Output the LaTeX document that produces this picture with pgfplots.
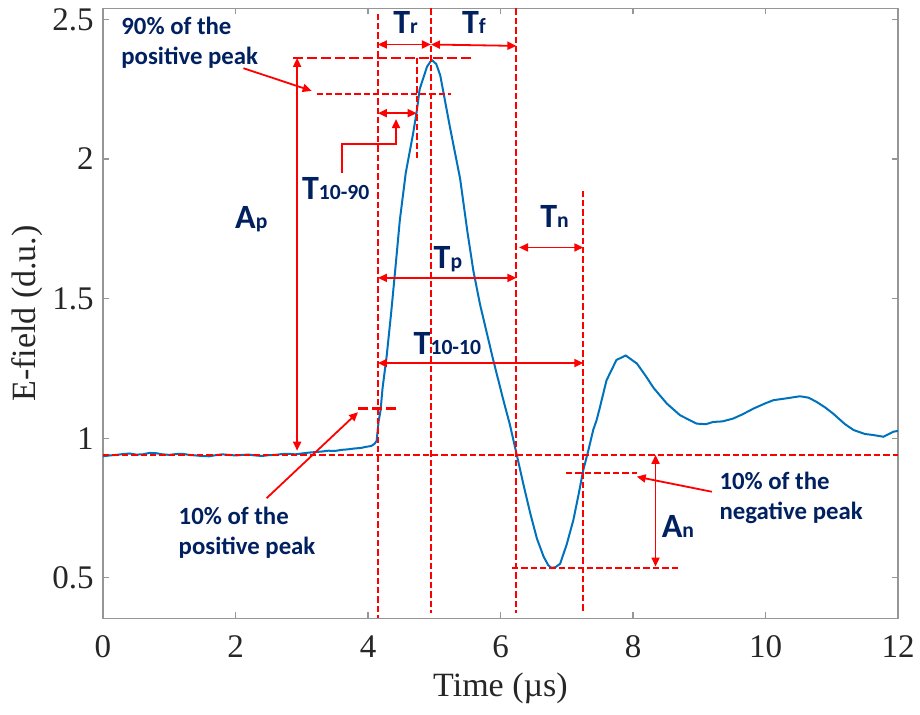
\documentclass[border=0pt]{standalone}
\usepackage{fontspec}
\setmainfont{Liberation Serif}
\newfontfamily\lab{Carlito}
\usepackage{pgfplots}
\pgfplotsset{compat=1.18}
\usetikzlibrary{arrows.meta}
\definecolor{mblue}{RGB}{0,114,189}
\definecolor{navy}{RGB}{0,32,96}
\definecolor{framegray}{RGB}{150,150,150}
\newcommand{\lbl}[2]{#1{\fontsize{10.8}{10.8}\selectfont #2}}

\begin{document}
\begin{tikzpicture}[
  dl/.style={red, line width=1pt, dash pattern=on 3.2pt off 1.5pt},
  dlw/.style={red, line width=1.4pt, dash pattern=on 5pt off 2pt},
  ar/.style={red, line width=0.9pt, {Triangle[length=4.5pt,width=4pt]}-{Triangle[length=4.5pt,width=4pt]}},
  pa/.style={red, line width=0.9pt, -{Triangle[length=4.5pt,width=4pt]}},
  big/.style={font=\lab\bfseries\fontsize{17}{17}\selectfont, text=navy, inner sep=0pt, anchor=base west},
  note/.style={font=\lab\bfseries\fontsize{12.4}{12.4}\selectfont, text=navy, inner sep=0pt, anchor=base west},
]
\begin{axis}[
  scale only axis, width=397.5pt, height=305pt,
  xmin=0, xmax=12, ymin=0.354, ymax=2.539,
  xtick={0,2,...,12}, ytick={0.5,1,...,2.5},
  axis line style={framegray, line width=0.6pt},
  tick style={framegray, line width=0.6pt},
  major tick length=3pt,
  tick align=inside,
  ticklabel style={font=\fontsize{16.5}{16.5}\selectfont, text=black!85},
  xticklabel style={yshift=-5pt},
  yticklabel style={xshift=-1.2pt},
  /pgf/number format/assume math mode=true,
  xlabel={Time (µs)}, ylabel={E-field (d.u.)},
  every axis x label/.style={at={(axis description cs:0.5,0)}, yshift=-35pt, anchor=center},
  every axis y label/.style={at={(axis description cs:0,0.5)}, xshift=-38pt, rotate=90, anchor=center},
  label style={font=\fontsize{17}{17}\selectfont, text=black!85},
  clip=false,
]

\addplot[mblue, line width=1pt] coordinates {
  (0,0.935) (0.1,0.938) (0.2,0.940) (0.3,0.943) (0.4,0.945) (0.5,0.941) (0.6,0.942)
  (0.7,0.947) (0.8,0.946) (0.9,0.942) (1.0,0.940) (1.1,0.943) (1.2,0.944) (1.3,0.940)
  (1.4,0.938) (1.5,0.936) (1.6,0.935) (1.7,0.939) (1.8,0.942) (1.9,0.940) (2.0,0.938)
  (2.1,0.940) (2.2,0.941) (2.3,0.938) (2.4,0.936) (2.5,0.939) (2.6,0.940) (2.7,0.943)
  (2.8,0.944) (2.9,0.942) (3.0,0.945) (3.1,0.948) (3.2,0.950) (3.3,0.952) (3.4,0.955)
  (3.5,0.954) (3.6,0.958) (3.7,0.960) (3.8,0.963) (3.9,0.965) (3.95,0.968) (4.05,0.972)
  (4.1,0.980) (4.13,0.990) (4.16,1.06) (4.19,1.10) (4.22,1.18) (4.28,1.29) (4.35,1.45)
  (4.41,1.60) (4.48,1.78) (4.57,1.95) (4.68,2.09) (4.735,2.17) (4.78,2.25) (4.89,2.33)
  (4.96,2.355) (5.03,2.34) (5.09,2.30) (5.24,2.11) (5.39,1.93) (5.50,1.74) (5.59,1.60)
  (5.69,1.48) (5.89,1.28) (6.05,1.13) (6.14,1.05) (6.24,0.946) (6.35,0.83) (6.45,0.73)
  (6.55,0.64) (6.65,0.576) (6.72,0.545) (6.77,0.535) (6.83,0.538) (6.90,0.55) (7.00,0.62)
  (7.10,0.707) (7.18,0.80) (7.25,0.886) (7.33,0.96) (7.40,1.03) (7.45,1.064) (7.50,1.11)
  (7.60,1.207) (7.75,1.28) (7.89,1.296) (8.06,1.267) (8.20,1.22) (8.31,1.18) (8.51,1.124)
  (8.71,1.082) (8.96,1.052) (9.10,1.050) (9.21,1.058) (9.35,1.060) (9.51,1.070) (9.65,1.085)
  (9.82,1.106) (10.0,1.125) (10.12,1.136) (10.3,1.142) (10.52,1.150) (10.65,1.145)
  (10.77,1.130) (10.9,1.110) (11.02,1.088) (11.2,1.050) (11.33,1.029) (11.5,1.015)
  (11.63,1.011) (11.78,1.005) (11.93,1.023) (12,1.026)
};

% dashed guide lines
\draw[dl] (4.15,2.521) -- (4.15,0.354);
\draw[dl] (4.95,2.539) -- (4.95,0.375);
\draw[dl] (6.24,2.539) -- (6.24,0.375);
\draw[dl] (7.25,1.887) -- (7.25,0.375);
\draw[dl] (4.735,2.362) -- (4.735,2.0);
\draw[dl] (0,0.9406) -- (12,0.9406);
\draw[dlw] (2.87,2.362) -- (5.58,2.362);
\draw[dl] (3.225,2.231) -- (5.26,2.231);
\draw[dlw] (3.85,1.106) -- (4.48,1.106);
\draw[dl] (6.99,0.874) -- (8.06,0.874);
\draw[dl] (6.17,0.534) -- (8.71,0.534);

% double arrows
\draw[ar] (4.15,2.41) -- (4.95,2.41);
\draw[ar] (4.95,2.41) -- (6.24,2.405);
\draw[ar] (4.15,2.164) -- (4.735,2.164);
\draw[ar] (2.93,2.362) -- (2.93,0.955);
\draw[ar] (4.15,1.574) -- (6.24,1.574);
\draw[ar] (6.28,1.683) -- (7.25,1.683);
\draw[ar] (4.15,1.269) -- (7.25,1.269);
\draw[ar] (8.34,0.94) -- (8.34,0.54);

% pointers
\draw[pa] (2.12,2.325) -- (3.15,2.244);
\draw[pa] (3.607,1.95) -- (3.607,2.054) -- (4.423,2.054) -- (4.423,2.143);
\draw[pa] (2.47,0.785) -- (3.85,1.093);
\draw[pa] (9.19,0.808) -- (8.056,0.862);

% labels
\node[big] at (4.377,2.45) {\lbl{T}{r}};
\node[big] at (5.414,2.45) {\lbl{T}{f}};
\node[big] at (3.0,1.856) {\lbl{T}{10-90}};
\node[big] at (1.99,1.752) {\lbl{A}{p}};
\node[big] at (4.986,1.609) {\lbl{T}{p}};
\node[big] at (6.596,1.755) {\lbl{T}{n}};
\node[big] at (4.684,1.298) {\lbl{T}{10-10}};
\node[big] at (8.43,0.6425) {\lbl{A}{n}};
\node[note] at (0.272,2.446) {90\% of the};
\node[note] at (0.272,2.339) {positive peak};
\node[note] at (1.137,0.69) {10\% of the};
\node[note] at (1.137,0.583) {positive peak};
\node[note] at (9.30,0.8153) {10\% of the};
\node[note] at (9.30,0.708) {negative peak};
\end{axis}
\pgfresetboundingbox
\path[use as bounding box] ([xshift=-51.5pt,yshift=-48pt]current axis.south west) rectangle ([xshift=11pt,yshift=4.25pt]current axis.north east);
\end{tikzpicture}
\end{document}
